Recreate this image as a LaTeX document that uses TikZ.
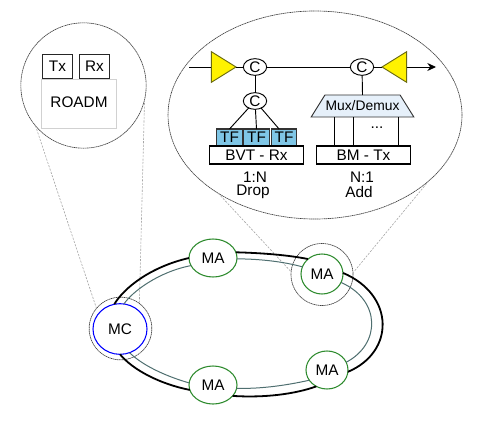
\documentclass[tikz,border=0pt]{standalone}
\usepackage{fontspec}
\setmainfont{Liberation Sans}
\usetikzlibrary{shapes.geometric,arrows.meta}
\definecolor{ringgray}{HTML}{4F6F70}
\definecolor{magreen}{HTML}{2E8B2E}
\definecolor{tfblue}{HTML}{7FC6E6}
\definecolor{muxblue}{HTML}{E6F0FA}
\definecolor{ampedge}{HTML}{6B6B10}
\tikzset{
  zoomring/.style={draw=black!75,dash pattern=on 1pt off 0.4pt,line width=0.5pt,inner sep=0pt,outer sep=0pt},
  zoomline/.style={draw=black!35,dash pattern=on 1.6pt off 1pt,line width=0.45pt},
  ringnode/.style={ellipse,draw=magreen,fill=white,line width=0.8pt,inner sep=0pt,outer sep=0pt},
  ringouter/.style={line width=1.35pt},
  ringinner/.style={draw=ringgray,line width=0.75pt},
  coupler/.style={ellipse,draw,fill=white,line width=0.7pt,minimum width=17.5pt,minimum height=12.5pt,inner sep=0pt,outer sep=0pt},
  amp/.style={isosceles triangle,isosceles triangle stretches,draw=ampedge,fill=yellow,line width=0.7pt,minimum width=23pt,minimum height=18.5pt,inner sep=0pt,outer sep=0pt,anchor=apex},
  tfbox/.style={rectangle,draw=black!80,fill=tfblue,line width=0.9pt,minimum width=19pt,minimum height=12.75pt,inner sep=0pt,outer sep=0pt},
  cardbox/.style={rectangle,draw,fill=white,line width=0.9pt,minimum width=71pt,minimum height=13.5pt,inner sep=0pt,outer sep=0pt},
  trxbox/.style={rectangle,draw=black!85,fill=white,line width=0.7pt,minimum width=23pt,minimum height=18pt,inner sep=0pt,outer sep=0pt},
}
\begin{document}
\begin{tikzpicture}[x=0.75pt,y=-0.75pt,>={Stealth[length=6.5pt,width=6pt]},font=\fontsize{11.5}{13}\selectfont]
  \useasboundingbox (0,0) rectangle (498,424);
  % zoom bubbles
  \node[zoomring,circle,minimum size=94pt] (zoomL) at (83.5,85.5) {};
  \node[zoomring,ellipse,minimum width=220.5pt,minimum height=156pt] (zoomR) at (315,115) {};
  \node[zoomring,circle,minimum size=47pt] (haloC) at (120.5,328.5) {};
  \node[zoomring,circle,minimum size=46.5pt] (haloA) at (322,274.5) {};
  % projection lines
  \draw[zoomline] (zoomL.220) -- (haloC.140);
  \draw[zoomline] (zoomL.-13) -- (haloC.53);
  \draw[zoomline] (zoomR.219) -- (haloA.175);
  \draw[zoomline] (zoomR.-30) -- (haloA.3);
  % ring nodes
  \node[ringnode,draw=blue,minimum width=40.5pt,minimum height=38pt] (MC) at (120,329) {MC};
  \node[ringnode,minimum width=36pt,minimum height=28.5pt] (MAa) at (213,258) {MA};
  \node[ringnode,minimum width=36pt,minimum height=28.5pt] (MAb) at (213,385) {MA};
  \node[ringnode,minimum width=31.5pt,minimum height=30pt] (MAc) at (322,274) {MA};
  \node[ringnode,minimum width=31.5pt,minimum height=28.5pt] (MAd) at (327,370) {MA};
  % ring, outer fibre
  \draw[ringouter] (MC.103) .. controls (124,288) and (150,267) .. (MAa.180);
  \draw[ringouter] (MAa.14) .. controls (262,253) and (288,255) .. (MAc.133);
  \draw[ringouter] (MAc.3) .. controls (395,295) and (395,352) .. (MAd.-5);
  \draw[ringouter] (MAd.237) .. controls (295,394) and (265,398) .. (MAb.-29);
  \draw[ringouter] (MAb.192) .. controls (160,384) and (133,370) .. (MC.south);
  % ring, inner fibre
  \draw[ringinner] (MC.81) .. controls (132,292) and (158,272) .. (MAa.199);
  \draw[ringinner] (MAa.-2) .. controls (262,259) and (285,262) .. (MAc.160);
  \draw[ringinner] (MAc.-24) .. controls (381,300) and (381,344) .. (MAd.22);
  \draw[ringinner] (MAd.210) .. controls (288,385) and (262,389) .. (MAb.-8);
  \draw[ringinner] (MAb.175) .. controls (165,376) and (142,365) .. (MC.-68);
  % left bubble
  \node[rectangle,draw=black!18,line width=0.6pt,minimum width=56.25pt,minimum height=36.5pt,inner sep=0pt] (roadm) at (79,104) {};
  \node (roadmtxt) at (79,102) {ROADM};
  \node[trxbox] (Tx) at (57.5,66) {Tx};
  \node[trxbox] (Rx) at (94.5,66) {Rx};
  % right bubble, line
  \coordinate (linein) at (189,67);
  \coordinate (lineout) at (436,67);
  \node[amp] (ampL) at (236,67) {};
  \node[amp,shape border rotate=180] (ampR) at (382,67) {};
  \node[coupler] (Ca) at (255,67) {C};
  \node[coupler] (Cb) at (255,101) {C};
  \node[coupler] (Cc) at (362,67) {C};
  \draw[line width=0.7pt] (linein) -- (ampL.lower side);
  \draw[line width=0.7pt] (ampL.apex) -- (Ca);
  \draw[line width=0.7pt] (Ca) -- (Cc);
  \draw[line width=0.7pt] (Cc) -- (ampR.apex);
  \draw[->,line width=0.7pt] (ampR.lower side) -- (lineout);
  \draw[line width=0.7pt] (Ca) -- (Cb);
  % drop side
  \node[tfbox] (TFa) at (229.5,137.5) {TF};
  \node[tfbox] (TFb) at (256.5,137.5) {TF};
  \node[tfbox] (TFc) at (284,137.5) {TF};
  \node[cardbox] (BVT) at (256.5,155) {BVT - Rx};
  \draw[line width=0.7pt] (Cb) -- (TFa.north);
  \draw[line width=0.7pt] (Cb) -- (TFb.north);
  \draw[line width=0.7pt] (Cb) -- (TFc.120);
  \node (dropa) at (255,177) {1:N};
  \node (dropb) at (253,192) {Drop};
  % add side
  \node[trapezium,trapezium left angle=37,trapezium right angle=37,trapezium stretches=true,draw=black!80,fill=muxblue,line width=0.7pt,minimum width=77pt,minimum height=16.5pt,inner sep=0pt,outer sep=0pt] (mux) at (362.5,106) {\fontsize{10.4}{12}\selectfont Mux/Demux};
  \node[cardbox] (BM) at (363.5,155) {BM - Tx};
  \draw[line width=0.7pt] (Cc) -- (mux.north);
  \foreach \x in {334,353,398}
    \draw[line width=0.7pt] (\x,0 |- mux.south) -- (\x,0 |- BM.north);
  \node (dots) at (377,128) {...};
  \node (adda) at (362,177) {N:1};
  \node (addb) at (359,192) {Add};
\end{tikzpicture}
\end{document}
